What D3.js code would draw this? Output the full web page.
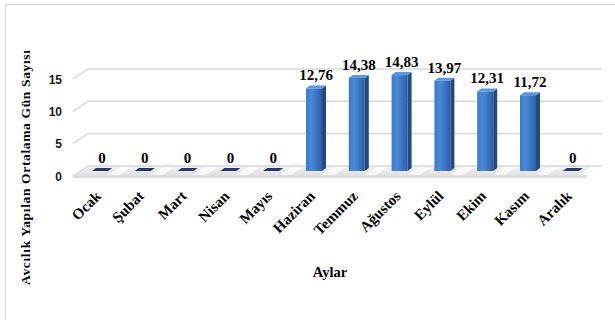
<!DOCTYPE html>
<html>
<head>
<meta charset="utf-8">
<script src="https://cdn.jsdelivr.net/npm/d3@7"></script>
<style>
  html, body { margin: 0; padding: 0; background: #fff; }
  svg { display: block; }
</style>
</head>
<body>
<svg id="chart" width="615" height="320"></svg>
<script>
const months = ["Ocak", "Şubat", "Mart", "Nisan", "Mayıs", "Haziran", "Temmuz", "Ağustos", "Eylül", "Ekim", "Kasım", "Aralık"];
const values = [0, 0, 0, 0, 0, 12.76, 14.38, 14.83, 13.97, 12.31, 11.72, 0];
const yTicks = [0, 5, 10, 15];
const yTitle = "Avcılık Yapılan Ortalama Gün Sayısı";
const xTitle = "Aylar";

const svg = d3.select("#chart");
const serif = "'Liberation Serif', 'Times New Roman', serif";
const sans = "'Liberation Sans', Arial, sans-serif";

// frame (left + top lines)
svg.append("line").attr("x1", 5.5).attr("x2", 5.5).attr("y1", 4.5).attr("y2", 320)
  .attr("stroke", "#d9d9d9").attr("stroke-width", 1);
svg.append("line").attr("x1", 5.5).attr("x2", 615).attr("y1", 4.5).attr("y2", 4.5)
  .attr("stroke", "#d9d9d9").attr("stroke-width", 1.5);

// scales (mid plane where bars stand)
const x = d3.scaleBand().domain(months).range([80.6, 594.2]);
const y = d3.scaleLinear().domain([0, 15]).range([171, 74]);
const DX = 7.5, DY = -5;        // half depth offset
const backX0 = 88, backX1 = 602, frontX0 = 73, frontX1 = 587;

const defs = svg.append("defs");
const gFront = defs.append("linearGradient").attr("id", "gFront").attr("x1", 0).attr("x2", 1).attr("y1", 0).attr("y2", 0);
gFront.append("stop").attr("offset", 0).attr("stop-color", "#3d7bcb");
gFront.append("stop").attr("offset", 0.35).attr("stop-color", "#4a89d6");
gFront.append("stop").attr("offset", 1).attr("stop-color", "#2c5fa6");
const gFloor = defs.append("linearGradient").attr("id", "gFloor").attr("x1", 0).attr("x2", 0).attr("y1", 0).attr("y2", 1);
gFloor.append("stop").attr("offset", 0).attr("stop-color", "#f2f2f2");
gFloor.append("stop").attr("offset", 1).attr("stop-color", "#d6d6d6");

// floor
const yb0 = y(0) + DY, yf0 = y(0) - DY;
svg.append("path")
  .attr("d", `M${frontX0},${yf0}L${frontX1},${yf0}L${backX1},${yb0}L${backX0},${yb0}Z`)
  .attr("fill", "url(#gFloor)").attr("opacity", 0.8);
svg.append("line").attr("x1", frontX0).attr("x2", frontX1).attr("y1", yf0 + 1).attr("y2", yf0 + 1)
  .attr("stroke", "#d0d0d0").attr("stroke-width", 1.5);

// gridlines (back wall + left diagonal)
const grid = svg.append("g");
yTicks.forEach(t => {
  const yb = y(t) + DY, yf = y(t) - DY;
  grid.append("path")
    .attr("d", `M${frontX0},${yf}L${backX0},${yb}L${backX1},${yb}`)
    .attr("fill", "none").attr("stroke", "#d9d9d9").attr("stroke-width", 1.5);
});

// floor light patches between bars
svg.append("g").selectAll("path").data(months).join("path")
  .attr("d", m => {
    const c = x(m) + x.bandwidth() / 2 + 10;
    return `M${c - 4},${yf0 - 1}L${c + 8},${yf0 - 1}L${c + 20},${yb0 + 1}L${c + 8},${yb0 + 1}Z`;
  })
  .attr("fill", "#ffffff").attr("opacity", 0.7);

// bars
const FW = 16, SW = 4, SD = 3;
const bx = m => x(m) + (x.bandwidth() - (FW + SW)) / 2;
const bars = svg.append("g").selectAll("g").data(months.map((m, i) => ({ m, v: values[i] }))).join("g");
bars.filter(d => d.v > 0).append("rect")
  .attr("x", d => bx(d.m)).attr("y", d => y(d.v))
  .attr("width", FW).attr("height", d => y(0) - y(d.v))
  .attr("fill", "url(#gFront)");
bars.filter(d => d.v > 0).append("path")
  .attr("d", d => {
    const x0 = bx(d.m) + FW, yt = y(d.v), y0 = y(0);
    return `M${x0},${yt}L${x0 + SW},${yt - SD}L${x0 + SW},${y0 - SD}L${x0},${y0}Z`;
  })
  .attr("fill", "#224a83");
bars.append("path")
  .attr("d", d => {
    const x0 = bx(d.m), yt = y(d.v);
    return `M${x0},${yt}L${x0 + SW},${yt - SD}L${x0 + FW + SW},${yt - SD}L${x0 + FW},${yt}Z`;
  })
  .attr("fill", d => d.v > 0 ? "#5a97de" : "#1f3d6a");

// data labels
const fmt = v => v === 0 ? "0" : d3.format(".2f")(v).replace(".", ",");
bars.append("text")
  .attr("x", d => bx(d.m) + 10).attr("y", d => y(d.v) - 8)
  .attr("text-anchor", "middle")
  .attr("font-family", serif).attr("font-weight", "bold").attr("font-size", "15px")
  .attr("fill", "#000")
  .text(d => fmt(d.v));

// y tick labels
svg.append("g").selectAll("text").data(yTicks).join("text")
  .attr("x", 62).attr("y", t => y(t) - DY + 4.5)
  .attr("text-anchor", "end")
  .attr("font-family", sans).attr("font-weight", "bold").attr("font-size", "12px")
  .attr("fill", "#1a1a1a")
  .text(t => t);

// category labels
svg.append("g").selectAll("text").data(months).join("text")
  .attr("transform", m => `translate(${x(m) + x.bandwidth() / 2},197) rotate(-45)`)
  .attr("text-anchor", "end")
  .attr("font-family", serif).attr("font-weight", "bold").attr("font-size", "15px")
  .attr("fill", "#000")
  .text(m => m);

// axis titles
svg.append("text")
  .attr("transform", "translate(30,167.5) rotate(-90)")
  .attr("text-anchor", "middle")
  .attr("font-family", serif).attr("font-weight", "bold").attr("font-size", "13.5px")
  .attr("textLength", 235).attr("lengthAdjust", "spacing")
  .attr("fill", "#000")
  .text(yTitle);
svg.append("text")
  .attr("x", 330).attr("y", 277)
  .attr("text-anchor", "middle")
  .attr("font-family", serif).attr("font-weight", "bold").attr("font-size", "14.5px")
  .attr("fill", "#000")
  .text(xTitle);
</script>
</body>
</html>
